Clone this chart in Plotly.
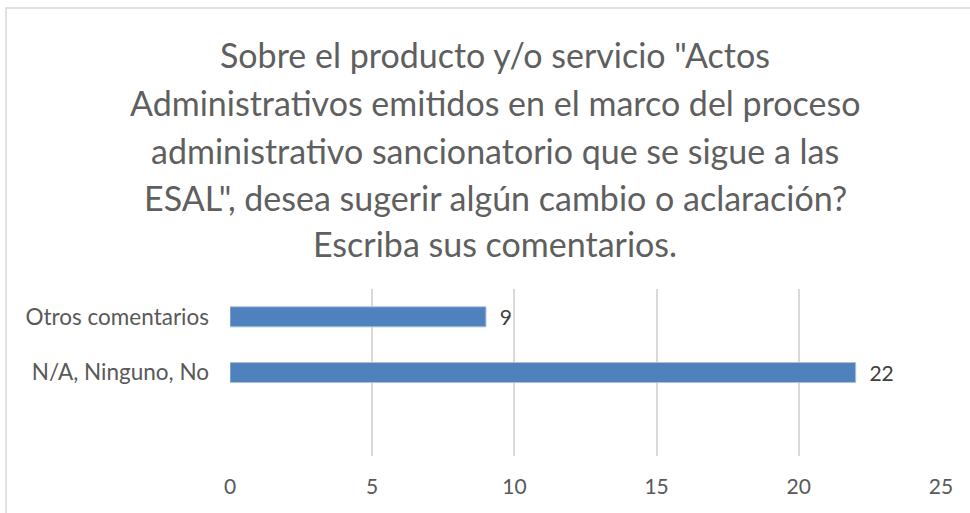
import plotly.graph_objects as go

categories = ["N/A, Ninguno, No", "Otros comentarios"]
values = [22, 9]
x_ticks = [0, 5, 10, 15, 20, 25]
title_lines = [
    "Sobre el producto y/o servicio \"Actos",
    "Administrativos emitidos en el marco del proceso",
    "administrativo sancionatorio que se sigue a las",
    "ESAL\", desea sugerir algún cambio o aclaración?",
    "Escriba sus comentarios.",
]

W, H = 970, 513
ml, mr, mt, mb = 230, 29, 289, 57
pw, ph = W - ml - mr, H - mt - mb

def px_x(p):
    return (p - ml) / pw

def px_y(p):
    return (H - mb - p) / ph

FONT = "Lato, 'Open Sans', sans-serif"
GREY = "#595959"

fig = go.Figure(go.Bar(
    y=categories, x=values, orientation="h",
    marker=dict(color="#4f81bd", line=dict(color="#a9c0de", width=1)),
    width=0.36,
    text=["  " + str(v) for v in values], textposition="outside",
    constraintext="none",
    textfont=dict(family=FONT, size=21, color="#404040"),
    cliponaxis=False,
    hoverinfo="skip",
))

annotations = []
line_y = [55, 103, 150, 197, 243]
for t, yy in zip(title_lines, line_y):
    annotations.append(dict(
        text=t, xref="paper", yref="paper", x=px_x(495), y=px_y(yy),
        xanchor="center", yanchor="middle", showarrow=False,
        font=dict(family=FONT, size=34, color="#5f5f5f"),
    ))

fig.update_layout(
    width=W, height=H,
    margin=dict(l=ml, r=mr, t=mt, b=mb),
    paper_bgcolor="white", plot_bgcolor="white",
    showlegend=False,
    annotations=annotations,
    xaxis=dict(range=[0, 25], tickvals=x_ticks, showgrid=True,
               gridcolor="#d9d9d9", gridwidth=1.5, zeroline=False,
               showline=False, ticks="", ticklabelstandoff=16,
               tickfont=dict(family=FONT, size=21, color=GREY)),
    yaxis=dict(type="category", categoryorder="array", categoryarray=categories,
               range=[-1.5, 1.5], showgrid=False, zeroline=False,
               showline=False, ticks="", ticklabelstandoff=20,
               tickfont=dict(family=FONT, size=22.5, color=GREY)),
    shapes=[dict(type="rect", xref="paper", yref="paper",
                 x0=px_x(6), x1=px_x(985), y0=px_y(530), y1=px_y(8),
                 line=dict(color="#d9d9d9", width=1.5), fillcolor="rgba(0,0,0,0)",
                 layer="below")],
)

fig.write_html("out.html", config={"displayModeBar": False},
               post_script="document.body.style.margin='0px';")
